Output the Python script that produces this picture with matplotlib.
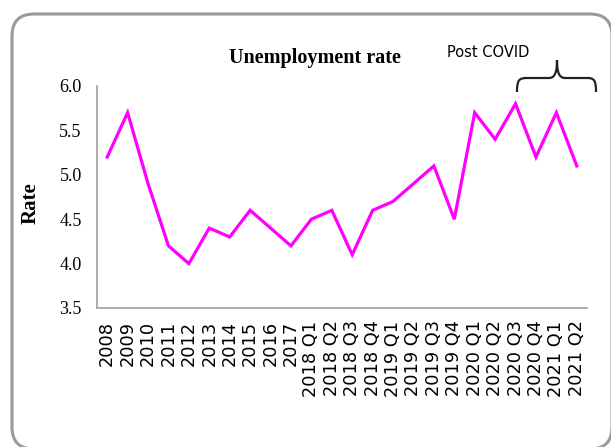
import matplotlib
matplotlib.use("Agg")
import matplotlib.pyplot as plt
from matplotlib.patches import FancyBboxPatch, PathPatch
from matplotlib.path import Path

categories = ["2008", "2009", "2010", "2011", "2012", "2013", "2014", "2015",
              "2016", "2017", "2018 Q1", "2018 Q2", "2018 Q3", "2018 Q4",
              "2019 Q1", "2019 Q2", "2019 Q3", "2019 Q4", "2020 Q1", "2020 Q2",
              "2020 Q3", "2020 Q4", "2021 Q1", "2021 Q2"]
rates = [5.2, 5.7, 4.9, 4.2, 4.0, 4.4, 4.3, 4.6, 4.4, 4.2, 4.5, 4.6, 4.1, 4.6,
         4.7, 4.9, 5.1, 4.5, 5.7, 5.4, 5.8, 5.2, 5.7, 5.1]
yticks = [3.5, 4.0, 4.5, 5.0, 5.5, 6.0]

W, H = 611, 447
fig = plt.figure(figsize=(W / 100, H / 100), dpi=100)
fig.patch.set_facecolor("white")

# overlay in pixel coordinates (y measured from bottom) for frame and brace
ov = fig.add_axes([0, 0, 1, 1])
ov.set_xlim(0, W)
ov.set_ylim(0, H)
ov.axis("off")
frame = FancyBboxPatch((12, H - 449), 600, 449 - 14,
                       boxstyle="round,pad=0,rounding_size=22",
                       fill=False, edgecolor="#9a9a9a", linewidth=2.2)
ov.add_patch(frame)

# curly brace (pixel coords from top, converted)
pts = [(517, 92), (517, 80), (519, 78), (527, 78),
       (549, 78), (555, 78), (557, 72), (557, 60),
       (557, 72), (559, 78), (565, 78),
       (587, 78), (594, 78), (596, 80), (596, 92)]
verts = [(px, H - py) for px, py in pts]
codes = [Path.MOVETO, Path.CURVE4, Path.CURVE4, Path.CURVE4,
         Path.LINETO, Path.CURVE4, Path.CURVE4, Path.CURVE4,
         Path.CURVE4, Path.CURVE4, Path.CURVE4,
         Path.LINETO, Path.CURVE4, Path.CURVE4, Path.CURVE4]
ov.add_patch(PathPatch(Path(verts, codes), fill=False, edgecolor="#222222", linewidth=1.6))

ax = fig.add_axes([97 / W, 1 - 308 / H, 490 / W, 222 / H])
x = list(range(len(categories)))
ax.plot(x, rates, color="#FF00FF", linewidth=2.3, solid_joinstyle="miter")
ax.set_xlim(-0.5, len(categories) - 0.5)
ax.set_ylim(3.5, 6.0)
ax.set_yticks(yticks)
ax.set_yticklabels([f"{v:.1f}" for v in yticks], family="Liberation Serif", fontsize=13)
ax.set_xticks(x)
ax.set_xticklabels(categories, rotation=90, family="DejaVu Sans", fontsize=12.8,
                   va="top", ha="center")
ax.tick_params(axis="both", length=0)
ax.tick_params(axis="y", pad=11)
ax.tick_params(axis="x", pad=9)
for s in ["top", "right"]:
    ax.spines[s].set_visible(False)
for s in ["left", "bottom"]:
    ax.spines[s].set_color("#a0a0a0")
    ax.spines[s].set_linewidth(1.2)
ax.set_facecolor("none")

fig.text(315 / W, 1 - 63 / H, "Unemployment rate", family="Liberation Serif",
         fontweight="bold", fontsize=14.5, ha="center", va="baseline")
fig.text(31 / W, 1 - 203 / H, "Rate", family="Liberation Serif", fontweight="bold",
         fontsize=15, rotation=90, ha="center", va="center")
fig.text(447 / W, 1 - 57 / H, "Post COVID", family="DejaVu Sans", fontsize=10.5,
         ha="left", va="baseline")

fig.savefig("out.png", dpi=100)
